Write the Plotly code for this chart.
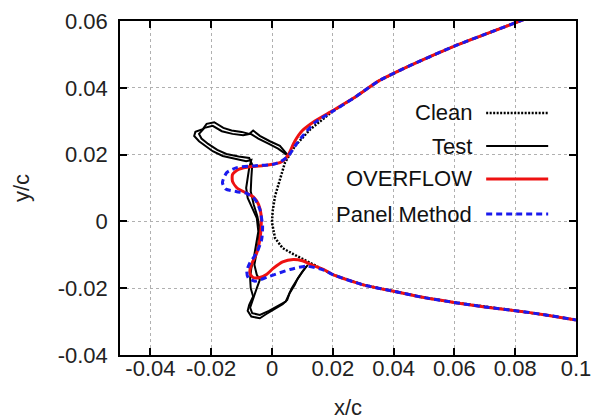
import plotly.graph_objects as go

# ---------------- data ----------------
clean_x = [0.083, 0.070, 0.060, 0.045, 0.035, 0.027, 0.020, 0.0125, 0.0075, 0.0043, 0.0026, 0.0010,
           0.0002, 0.0, 0.0010, 0.0035, 0.0070, 0.0100, 0.0136, 0.0170, 0.0202, 0.030, 0.040, 0.050,
           0.0609, 0.070, 0.0807, 0.090, 0.100]
clean_y = [0.0605, 0.0560, 0.0525, 0.0465, 0.0420, 0.0370, 0.0330, 0.0275, 0.0225, 0.0177, 0.0126, 0.0076,
           0.0030, -0.0004, -0.0050, -0.0080, -0.0098, -0.0112, -0.0130, -0.0144, -0.0160, -0.0190, -0.0209, -0.0228,
           -0.0244, -0.0256, -0.0268, -0.0280, -0.0295]

test1_x = [0.0054, 0.0026, -0.0007, -0.0040, -0.0062, -0.0075, -0.0100, -0.0133, -0.0160, -0.0190, -0.0215,
           -0.0228, -0.0252, -0.0256, -0.0240, -0.0218, -0.0195, -0.0162, -0.0118, -0.0085, -0.0068, -0.0075,
           -0.0080, -0.0085, -0.0080, -0.0065, -0.0050, -0.0045, -0.0052, -0.0060, -0.0068, -0.0072, -0.0070,
           -0.0062, -0.0075, -0.0080, -0.0068, -0.0040, -0.0020, 0.0010, 0.0035, 0.0050, 0.0058, 0.0075,
           0.0085, 0.0100, 0.0118]
test1_y = [0.0196, 0.0226, 0.0240, 0.0256, 0.0272, 0.0262, 0.0268, 0.0272, 0.0280, 0.0297, 0.0292,
           0.0276, 0.0268, 0.0256, 0.0240, 0.0226, 0.0210, 0.0196, 0.0186, 0.0180, 0.0184, 0.0160,
           0.0130, 0.0100, 0.0070, 0.0040, 0.0010, -0.0030, -0.0070, -0.0110, -0.0140, -0.0170, -0.0200,
           -0.0225, -0.0250, -0.0268, -0.0285, -0.0290, -0.0278, -0.0262, -0.0248, -0.0235, -0.0215, -0.0190,
           -0.0170, -0.0150, -0.0130]

test2_x = [0.0048, 0.0020, -0.0010, -0.0045, -0.0070, -0.0095, -0.0130, -0.0165, -0.0195, -0.0222, -0.0240,
           -0.0232, -0.0210, -0.0180, -0.0150, -0.0110, -0.0075, -0.0065, -0.0068, -0.0070, -0.0060, -0.0048,
           -0.0040, -0.0045, -0.0052, -0.0058, -0.0050, -0.0040, -0.0050, -0.0062, -0.0072, -0.0065, -0.0040,
           -0.0010, 0.0020, 0.0045, 0.0055, 0.0065, 0.0080, 0.0095, 0.0112]
test2_y = [0.0200, 0.0218, 0.0232, 0.0248, 0.0262, 0.0258, 0.0262, 0.0270, 0.0286, 0.0280, 0.0262,
           0.0248, 0.0232, 0.0214, 0.0202, 0.0194, 0.0190, 0.0170, 0.0130, 0.0090, 0.0050, 0.0015,
           -0.0025, -0.0065, -0.0100, -0.0130, -0.0160, -0.0175, -0.0200, -0.0230, -0.0258, -0.0275, -0.0280,
           -0.0268, -0.0252, -0.0240, -0.0220, -0.0200, -0.0178, -0.0158, -0.0135]

overflow_x = [0.083, 0.070, 0.060, 0.045, 0.035, 0.027, 0.020, 0.0140, 0.0100, 0.0075, 0.0054, 0.0040, 0.0026,
              -0.0029, -0.0083, -0.0112, -0.0130, -0.0130, -0.0115, -0.0085, -0.0060, -0.0044, -0.0036, -0.0036,
              -0.0040, -0.0050, -0.0068, -0.0073, -0.0062, -0.0040, -0.0017, 0.0005, 0.0035, 0.0070, 0.0100,
              0.0130, 0.0170, 0.0202, 0.030, 0.040, 0.050, 0.0609, 0.070, 0.0807, 0.090, 0.100]
overflow_y = [0.0605, 0.0560, 0.0525, 0.0465, 0.0420, 0.0370, 0.0332, 0.0300, 0.0272, 0.0240, 0.0200, 0.0184, 0.0176,
              0.0167, 0.0162, 0.0155, 0.0140, 0.0120, 0.0100, 0.0085, 0.0072, 0.0050, 0.0020, -0.0020,
              -0.0054, -0.0094, -0.0130, -0.0155, -0.0168, -0.0168, -0.0158, -0.0140, -0.0121, -0.0114, -0.0118,
              -0.0130, -0.0144, -0.0160, -0.0190, -0.0209, -0.0228, -0.0244, -0.0256, -0.0268, -0.0280, -0.0295]

panel_x = [0.083, 0.070, 0.060, 0.045, 0.035, 0.027, 0.020, 0.0140, 0.0100, 0.0075, 0.0054, 0.0030, 0.0004,
           -0.0062, -0.0116, -0.0149, -0.0163, -0.0152, -0.0116, -0.0083, -0.0056, -0.0040, -0.0031, -0.0034,
           -0.0050, -0.0073, -0.0083, -0.0078, -0.0056, -0.0007, 0.0059, 0.0114, 0.0170, 0.0202, 0.030, 0.040,
           0.050, 0.0609, 0.070, 0.0807, 0.090, 0.100]
panel_y = [0.0605, 0.0560, 0.0525, 0.0465, 0.0420, 0.0370, 0.0330, 0.0295, 0.0255, 0.0225, 0.0196, 0.0180, 0.0171,
           0.0166, 0.0161, 0.0146, 0.0116, 0.0097, 0.0089, 0.0084, 0.0066, 0.0036, -0.0014, -0.0054,
           -0.0094, -0.0124, -0.0149, -0.0169, -0.0179, -0.0164, -0.0144, -0.0134, -0.0146, -0.0160, -0.0190, -0.0209,
           -0.0228, -0.0244, -0.0256, -0.0268, -0.0280, -0.0295]

x_tickvals = [-0.04, -0.02, 0, 0.02, 0.04, 0.06, 0.08, 0.1]
x_ticktext = ["-0.04", "-0.02", "0", "0.02", "0.04", "0.06", "0.08", "0.1"]
y_tickvals = [-0.04, -0.02, 0, 0.02, 0.04, 0.06]
y_ticktext = ["-0.04", "-0.02", "0", "0.02", "0.04", "0.06"]

legend_names = ["Clean", "Test", "OVERFLOW", "Panel Method"]

# ---------------- figure ----------------
FONT = "Liberation Sans, Arial, Helvetica, sans-serif"
FS = 22
fig = go.Figure()

fig.add_trace(go.Scatter(x=clean_x, y=clean_y, mode="lines", name="Clean",
                         line=dict(color="black", width=2.5, dash="2px,1.5px"), showlegend=False))
fig.add_trace(go.Scatter(x=test1_x, y=test1_y, mode="lines", name="Test",
                         line=dict(color="black", width=2), showlegend=False))
fig.add_trace(go.Scatter(x=test2_x, y=test2_y, mode="lines", name="Test",
                         line=dict(color="black", width=2), showlegend=False))
fig.add_trace(go.Scatter(x=overflow_x, y=overflow_y, mode="lines", name="OVERFLOW",
                         line=dict(color="#ee1111", width=3, shape="spline", smoothing=0.6), showlegend=False))
fig.add_trace(go.Scatter(x=panel_x, y=panel_y, mode="lines", name="Panel Method",
                         line=dict(color="#1a1aee", width=3, dash="6px,4px", shape="spline", smoothing=0.6),
                         showlegend=False))

# manual legend (text right-aligned, sample line on the right)
leg_styles = [dict(color="black", width=2.5, dash="2px,1.5px"),
              dict(color="black", width=2.2),
              dict(color="#ee1111", width=3),
              dict(color="#1a1aee", width=3, dash="6px,4px")]
leg_y = [0.7246, 0.6257, 0.527, 0.422]
for name, st, yy in zip(legend_names, leg_styles, leg_y):
    fig.add_annotation(x=0.776, y=yy, xref="paper", yref="paper", text=name, showarrow=False,
                       xanchor="right", yanchor="middle", font=dict(family=FONT, size=FS, color="#111"))
    fig.add_shape(type="line", xref="paper", yref="paper", x0=0.803, x1=0.939, y0=yy, y1=yy, line=st)

axis_common = dict(showline=True, linecolor="black", linewidth=1.5, mirror="ticks",
                   ticks="inside", ticklen=7, tickwidth=1.5, tickcolor="black",
                   showgrid=True, gridcolor="#b0b0b0", gridwidth=1, griddash="dot",
                   zeroline=False, automargin=False,
                   tickfont=dict(family=FONT, size=FS, color="#222"))

fig.update_xaxes(range=[-0.05, 0.1], tickvals=x_tickvals, ticktext=x_ticktext,
                 title=dict(text="x/c", font=dict(family=FONT, size=FS, color="#222"), standoff=21),
                 ticklabelstandoff=-7, **axis_common)
fig.update_yaxes(range=[-0.04, 0.06], tickvals=y_tickvals, ticktext=y_ticktext,
                 title=dict(text="y/c", font=dict(family=FONT, size=FS, color="#222"), standoff=22),
                 ticklabelstandoff=6, **axis_common)

fig.update_layout(width=597, height=420, margin=dict(l=120, r=21, t=21, b=65),
                  plot_bgcolor="white", paper_bgcolor="white", showlegend=False)

fig.write_html("out.html")
